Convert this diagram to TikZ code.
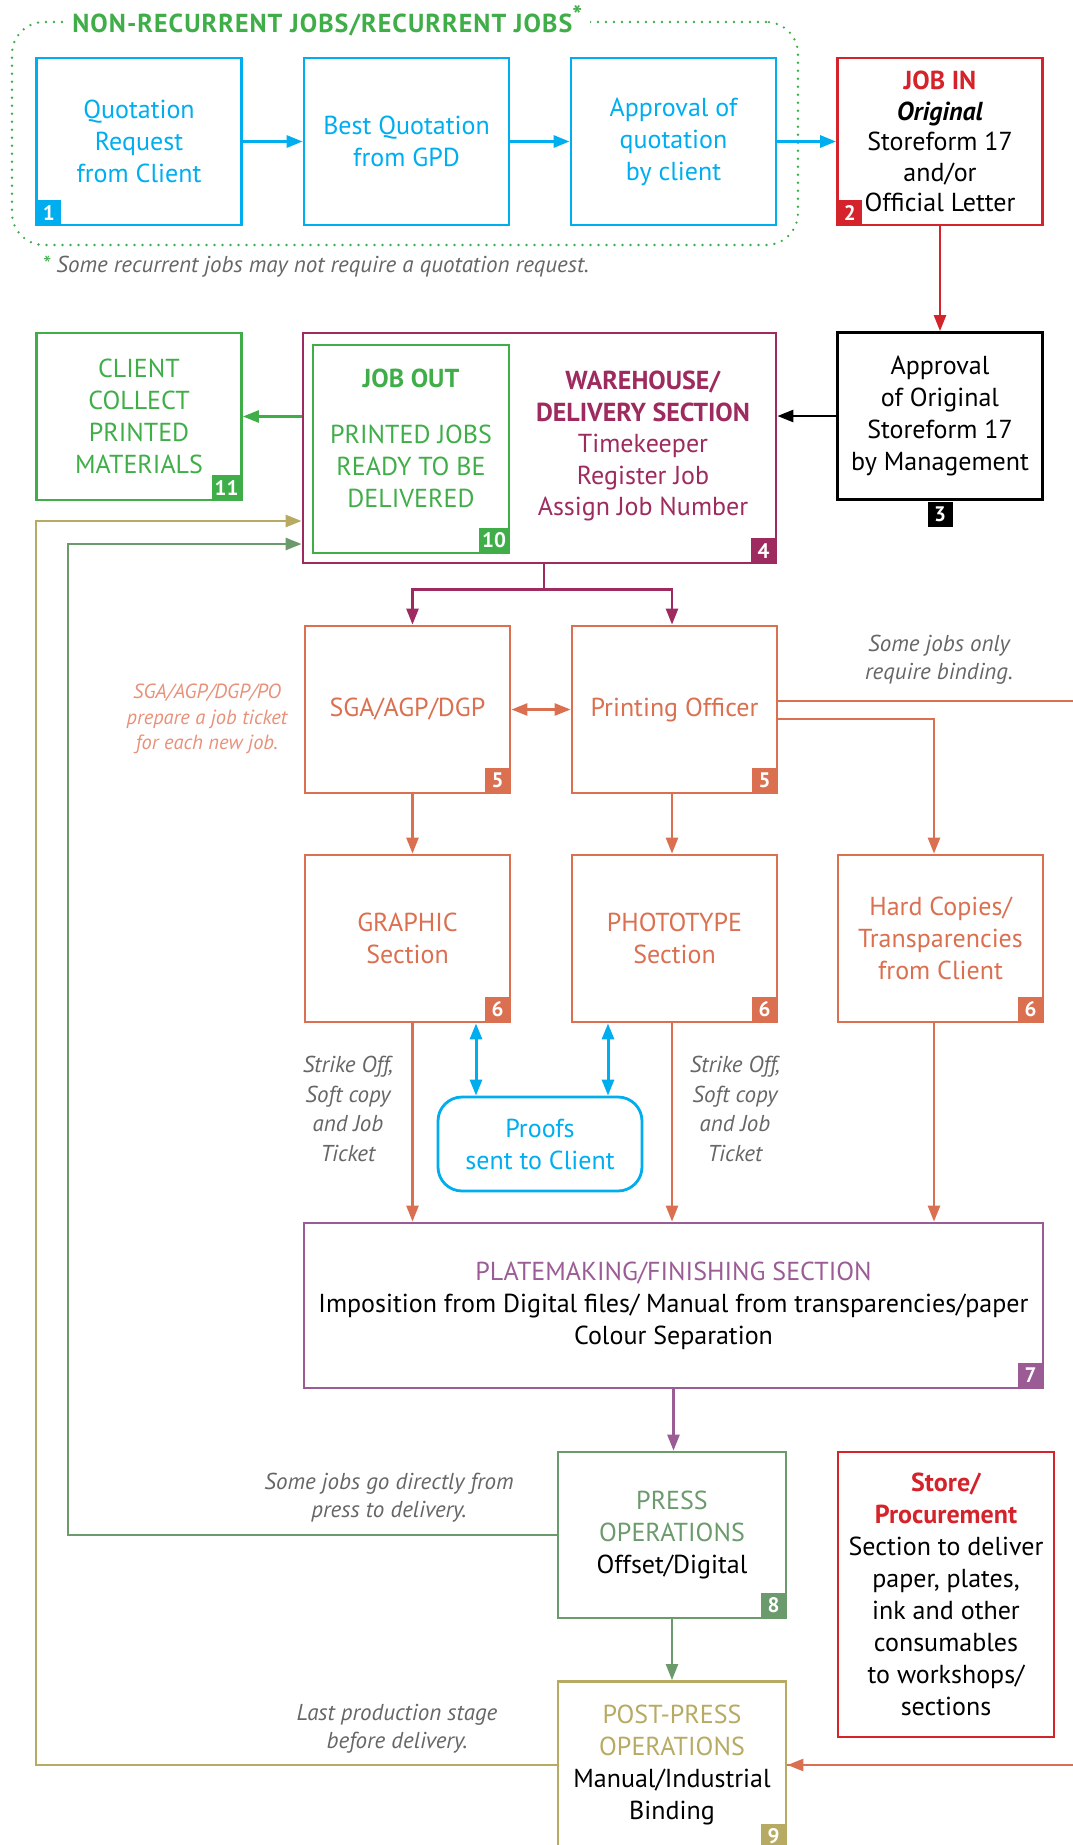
\documentclass[tikz,border=0pt]{standalone}
\usepackage{fontspec}
\setmainfont{PT Sans}
\usetikzlibrary{arrows.meta}

\definecolor{qblue}{HTML}{00AEEF}
\definecolor{jobred}{HTML}{D4232B}
\definecolor{outgreen}{HTML}{3FAE49}
\definecolor{whmag}{HTML}{9D2B5F}
\definecolor{secorange}{HTML}{DA7050}
\definecolor{tktorange}{HTML}{E8917A}
\definecolor{platepurple}{HTML}{9B5C96}
\definecolor{pressgreen}{HTML}{6B9A6C}
\definecolor{postolive}{HTML}{B7AA62}
\definecolor{notegray}{HTML}{666666}

\begin{document}
\begin{tikzpicture}
        [x=1pt, y=-1pt, >={Triangle[length=16pt,width=12pt]}, line width=2.6pt,
         box/.style={draw=#1, line width=2.8pt, minimum width=205pt, minimum height=167pt,
                     align=center, inner sep=0pt, font=\fontsize{26}{32}\selectfont},
         num/.style={fill=#1, text=white, minimum width=25pt, minimum height=25pt, inner sep=0pt,
                     font=\fontsize{21}{21}\selectfont\bfseries},
         note/.style={text=notegray, align=center, font=\fontsize{23}{29.5}\selectfont\itshape}]
        \useasboundingbox (0,0) rectangle (1073,1845);
        \clip (0,0) rectangle (1073,1845);

        \node[draw=outgreen, line width=2.6pt, dash pattern=on 0pt off 8pt, line cap=round,
              rounded corners=32pt, minimum width=786pt, minimum height=223pt] (grp) at (405,133.5) {};
        \node[anchor=west, fill=white, text=outgreen, inner xsep=8pt,
              font=\fontsize{26}{26}\selectfont\bfseries\addfontfeatures{LetterSpace=4}] (grptitle) at (63,21)
              {NON-RECURRENT JOBS/RECURRENT JOBS\raisebox{0.3em}{*}};
        \node[note, anchor=west] (foot) at (38,267) {\textcolor{outgreen}{*} Some recurrent jobs may not require a quotation request.};

        \node[box=qblue, text=qblue] (q1) at (139,141.5) {Quotation\\Request\\from Client};
        \node[box=qblue, text=qblue] (best) at (406.5,141.5) {Best Quotation\\from GPD};
        \node[box=qblue, text=qblue] (apprv) at (673.5,141.5) {Approval of\\quotation\\by client};
        \node[box=jobred, font=\fontsize{26}{30.5}\selectfont] (jobin) at (940,141.5)
              {\textbf{\textcolor{jobred}{JOB IN}}\\\textbf{\textit{Original}}\\Storeform 17\\and/or\\Official Letter};
        \node[box=black] (mgmt) at (940,416) {Approval\\of Original\\Storeform 17\\by Management};
        \node[box=outgreen, text=outgreen] (client) at (139,416.5) {CLIENT\\COLLECT\\PRINTED\\MATERIALS};
        \node[box=whmag, minimum width=473pt, minimum height=230pt] (wh) at (539.5,448) {};
        \node[align=center, text=whmag, font=\fontsize{26}{31.5}\selectfont] (whtext) at (643,446)
              {\textbf{WAREHOUSE/}\\\textbf{DELIVERY SECTION}\\Timekeeper\\Register Job\\Assign Job Number};
        \node[box=outgreen, text=outgreen, minimum width=196pt, minimum height=208pt] (jobout) at (411,449)
              {\textbf{JOB OUT}\\[24pt]PRINTED JOBS\\READY TO BE\\DELIVERED\\[-20pt]\strut};

        \node[box=secorange, text=secorange] (sga) at (407.5,709.5) {SGA/AGP/DGP};
        \node[box=secorange, text=secorange] (po) at (674.5,709.5) {Printing Officer};
        \node[box=secorange, text=secorange] (graphic) at (407.5,938.5) {GRAPHIC\\Section};
        \node[box=secorange, text=secorange] (photo) at (674.5,938.5) {PHOTOTYPE\\Section};
        \node[box=secorange, text=secorange] (hard) at (940.5,938.5) {Hard Copies/\\Transparencies\\from Client};
        \node[box=qblue, text=qblue, rounded corners=24pt, minimum width=204pt, minimum height=94pt] (proofs) at (540,1144)
              {Proofs\\sent to Client};
        \node[box=platepurple, minimum width=739pt, minimum height=165pt] (plate) at (673.5,1305.5)
              {\textcolor{platepurple}{PLATEMAKING/FINISHING SECTION}\\Imposition from Digital files/ Manual from transparencies/paper\\Colour Separation};
        \node[box=pressgreen, minimum width=228pt, minimum height=166pt] (press) at (672,1535)
              {\textcolor{pressgreen}{PRESS}\\\textcolor{pressgreen}{OPERATIONS}\\Offset/Digital};
        \node[box=jobred, minimum width=216pt, minimum height=285pt] (store) at (946,1594.5)
              {\textbf{\textcolor{jobred}{Store/}}\\\textbf{\textcolor{jobred}{Procurement}}\\Section to deliver\\paper, plates,\\ink and other\\consumables\\to workshops/\\sections};
        \node[box=postolive, minimum width=228pt, minimum height=167pt] (post) at (672,1765)
              {\textcolor{postolive}{POST-PRESS}\\\textcolor{postolive}{OPERATIONS}\\Manual/Industrial\\Binding};

        \node[num=qblue, anchor=south west] (n1) at (q1.south west) {1};
        \node[num=jobred, anchor=south west] (n2) at (jobin.south west) {2};
        \node[num=black, anchor=north] (n3) at (mgmt.south) {3};
        \node[num=whmag, anchor=south east] (n4) at (wh.south east) {4};
        \node[num=secorange, anchor=south east] (n5a) at (sga.south east) {5};
        \node[num=secorange, anchor=south east] (n5b) at (po.south east) {5};
        \node[num=secorange, anchor=south east] (n6a) at (graphic.south east) {6};
        \node[num=secorange, anchor=south east] (n6b) at (photo.south east) {6};
        \node[num=secorange, anchor=south east] (n6c) at (hard.south east) {6};
        \node[num=platepurple, anchor=south east] (n7) at (plate.south east) {7};
        \node[num=pressgreen, anchor=south east] (n8) at (press.south east) {8};
        \node[num=postolive, anchor=south east] (n9) at (post.south east) {9};
        \node[num=outgreen, anchor=south east, minimum width=30pt] (n10) at (jobout.south east) {10};
        \node[num=outgreen, anchor=south east, minimum width=30pt] (n11) at (client.south east) {11};

        \node[note, text=tktorange, font=\fontsize{20.5}{25.5}\selectfont\itshape] (tktnote) at (207,719)
              {SGA/AGP/DGP/PO\\prepare a job ticket\\for each new job.};
        \node[note, font=\fontsize{23}{28}\selectfont\itshape] (bindnote) at (939,660) {Some jobs only\\require binding.};
        \node[note] (strike1) at (348,1109) {Strike Off,\\Soft copy\\and Job\\Ticket};
        \node[note] (strike2) at (735,1109) {Strike Off,\\Soft copy\\and Job\\Ticket};
        \node[note, font=\fontsize{23}{28}\selectfont\itshape] (pressnote) at (389,1498) {Some jobs go directly from\\press to delivery.};
        \node[note, font=\fontsize{23}{28}\selectfont\itshape] (lastnote) at (397,1728.5) {Last production stage\\before delivery.};

        \coordinate (gturn) at (68,544);
        \coordinate (oturn) at (36,521);
        \coordinate (edgeR) at (1090,701);

        \path [->, qblue, line width=3pt] (q1) edge (best);
        \path [->, qblue, line width=3pt] (best) edge (apprv);
        \path [->, qblue, line width=3pt] (apprv) edge (jobin);
        \path [->, jobred] (jobin) edge (mgmt);
        \draw [->, black] (mgmt.west) -- (mgmt.west -| wh.east);
        \draw [->, outgreen] (wh.west |- client.east) -- (client.east);

        \draw [whmag] ([xshift=4.5pt]wh.south) -- ++(0,25) coordinate (split);
        \draw [->, whmag] (split) -| ([xshift=5pt]sga.north);
        \draw [->, whmag] (split) -| ([xshift=-2.5pt]po.north);

        \path [<->, secorange] (sga) edge (po);
        \draw [secorange] ([yshift=8.5pt]po.east) -- (edgeR) |- (post.east);
        \draw [->, secorange] (edgeR |- post.east) -- (post.east);
        \draw [->, secorange] ([yshift=-9.5pt]po.east) -| ([xshift=-6.5pt]hard.north);
        \draw [->, secorange] ([xshift=5pt]sga.south) -- ([xshift=5pt]graphic.north);
        \draw [->, secorange] ([xshift=-2.5pt]po.south) -- ([xshift=-2.5pt]photo.north);
        \draw [->, secorange] ([xshift=5pt]graphic.south) -- ([xshift=5pt]graphic.south |- plate.north);
        \draw [->, secorange] ([xshift=-2.5pt]photo.south) -- ([xshift=-2.5pt]photo.south |- plate.north);
        \draw [->, secorange] ([xshift=-6.5pt]hard.south) -- ([xshift=-6.5pt]hard.south |- plate.north);

        \draw [<->, qblue, line width=3pt] ([xshift=-64pt]proofs.north) -- ([xshift=-64pt]proofs.north |- graphic.south);
        \draw [<->, qblue, line width=3pt] ([xshift=68pt]proofs.north) -- ([xshift=68pt]proofs.north |- photo.south);

        \draw [->, platepurple] (plate.south) -- (plate.south |- press.north);
        \draw [->, pressgreen, line width=2.2pt] (press.south) -- (press.south |- post.north);
        \draw [->, pressgreen] (press.west) -| (gturn) -- (gturn -| wh.west);
        \draw [->, postolive, line width=2.8pt] (post.west) -| (oturn) -- (oturn -| wh.west);
    \end{tikzpicture}
\end{document}
